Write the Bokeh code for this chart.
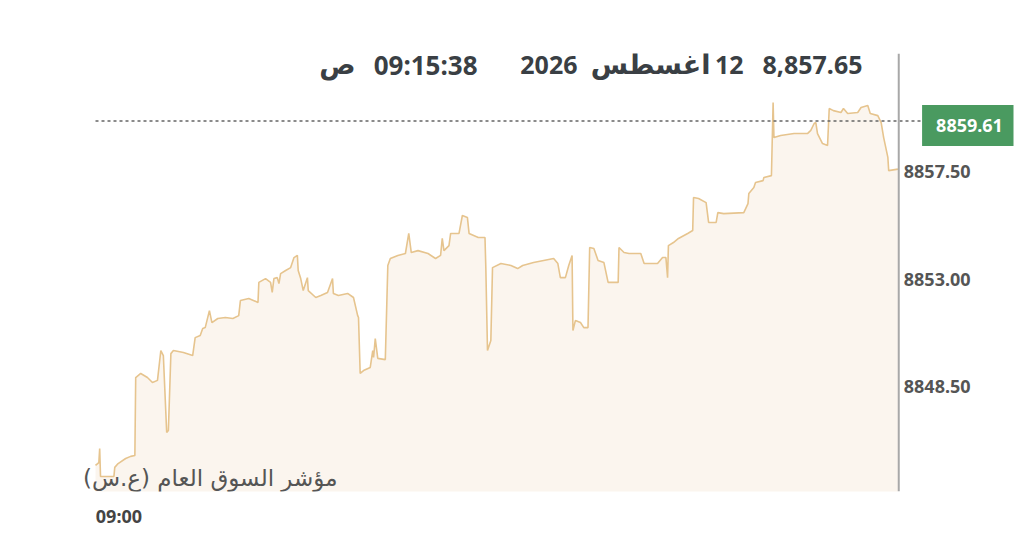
from bokeh.plotting import figure
from bokeh.models import Label, Span, FixedTicker, Range1d
from bokeh.embed import file_html
from bokeh.resources import INLINE

# seconds relative to 09:00:00
times = [-28, -24, -23, -22, -6, -5, -1, 8, 14, 19,
         20, 26, 34, 40, 46, 50, 53, 57, 59, 62,
         65, 77, 88, 91, 97, 100, 103, 108, 111, 118,
         127, 136, 143, 145, 155, 166, 167, 175, 181, 183,
         185, 189, 191, 193, 199, 205, 209, 213, 214, 217,
         220, 225, 226, 235, 241, 249, 255, 256, 262, 273,
         280, 285, 286, 288, 292, 300, 303, 304, 306, 309,
         318, 321, 324, 333, 342, 346, 349, 357, 369, 378,
         384, 386, 388, 394, 396, 406, 410, 416, 418, 429,
         437, 438, 440, 444, 446, 456, 468, 476, 482, 495,
         519, 524, 527, 533, 537, 541, 542, 545, 551, 555,
         560, 562, 567, 572, 579, 584, 596, 597, 603, 609,
         623, 627, 643, 649, 653, 655, 656, 662, 668, 679,
         685, 686, 692, 701, 704, 713, 715, 722, 746, 751,
         752, 758, 760, 769, 770, 779, 781, 782, 790, 806,
         822, 826, 830, 832, 834, 840, 846, 848, 853, 862,
         865, 870, 882, 886, 894, 897, 906, 910, 913, 918,
         919, 930]

values = [8845.20, 8845.32, 8845.91, 8844.74, 8844.74, 8845.12, 8845.28, 8845.49, 8845.58, 8845.62,
          8848.88, 8849.05, 8848.88, 8848.67, 8848.76, 8850.01, 8849.80, 8846.58, 8846.66, 8849.88,
          8850.01, 8849.93, 8849.80, 8850.55, 8850.64, 8850.93, 8850.97, 8851.68, 8851.18, 8851.35,
          8851.39, 8851.35, 8851.47, 8852.10, 8852.19, 8852.02, 8852.86, 8853.02, 8852.86, 8852.44,
          8853.02, 8853.06, 8852.81, 8853.23, 8853.36, 8853.48, 8853.90, 8853.99, 8853.36, 8853.02,
          8852.52, 8853.06, 8852.52, 8852.23, 8852.31, 8852.44, 8853.02, 8852.40, 8852.31, 8852.40,
          8852.23, 8851.47, 8851.39, 8849.05, 8849.17, 8849.30, 8850.01, 8849.72, 8850.51, 8849.68,
          8849.63, 8853.57, 8853.86, 8853.99, 8854.07, 8854.91, 8854.11, 8854.19, 8854.07, 8853.86,
          8853.99, 8854.70, 8854.19, 8854.40, 8854.91, 8854.91, 8855.66, 8855.58, 8854.91, 8854.74,
          8854.74, 8853.48, 8850.01, 8850.43, 8853.48, 8853.65, 8853.57, 8853.44, 8853.57, 8853.69,
          8853.86, 8853.65, 8853.06, 8853.06, 8853.57, 8853.99, 8850.85, 8851.27, 8851.18, 8850.97,
          8850.97, 8854.32, 8854.28, 8853.78, 8853.69, 8852.86, 8852.86, 8854.32, 8854.11, 8854.07,
          8854.07, 8853.65, 8853.65, 8853.90, 8853.90, 8853.06, 8854.40, 8854.53, 8854.70, 8854.91,
          8855.03, 8856.41, 8856.37, 8856.20, 8855.37, 8855.37, 8855.78, 8855.74, 8855.78, 8856.16,
          8856.58, 8856.83, 8857.04, 8857.12, 8857.25, 8857.33, 8860.39, 8858.92, 8859.01, 8859.09,
          8859.09, 8859.22, 8859.51, 8859.55, 8859.09, 8858.67, 8858.59, 8860.14, 8860.05, 8859.97,
          8860.14, 8859.93, 8859.97, 8860.18, 8860.26, 8859.93, 8859.84, 8859.55, 8858.92, 8858.09,
          8857.54, 8857.60]

y_ticks = [8848.5, 8853.0, 8857.5]
y_tick_labels = ["8848.50", "8853.00", "8857.50"]
x_ticks = [0]
x_tick_labels = {0: "09:00"}
axis_time = 931          # 09:15:31, end of the time axis
x_end = 1068
ref_value = 8859.61
title_value = "8,857.65"
title_date = ["12", "أغسطس", "2026"]
title_time = ["09:15:38", "ص"]
index_name = "مؤشر السوق العام (ع.س)\u200F"

FONT = "Noto Sans"
AR_FONT = "DejaVu Sans"

p = figure(frame_width=935, frame_height=438, output_backend="svg", toolbar_location=None,
           x_range=Range1d(-48.3, x_end), y_range=Range1d(8844.11, 8862.44),
           y_axis_location=None, title=None,
           min_border_left=78, min_border_right=3, min_border_top=53, min_border_bottom=39)
p.background_fill_color = "white"
p.border_fill_color = "white"
p.outline_line_color = None
p.grid.visible = False

p.varea(x=times, y1=8840.0, y2=values, fill_color="#fbf5ee")
p.line(x=times, y=values, line_color="#e6c48e", line_width=1.6)

# value axis (right edge of the time axis)
p.add_layout(Span(location=axis_time, dimension="height", line_color="#a8a8a8", line_width=2))
p.text(x=[axis_time] * len(y_ticks), y=y_ticks, text=y_tick_labels, x_offset=5,
       text_align="left", text_baseline="middle", text_font={"value": FONT},
       text_font_style="bold", text_font_size="18px", text_color="#555555")

# reference dotted line, from the first data point to the price tag
p.segment(x0=[times[0]], y0=[ref_value], x1=[x_end], y1=[ref_value],
          line_color="#666666", line_width=1.5, line_dash="3 3")

# time axis
xa = p.xaxis[0]
xa.ticker = FixedTicker(ticks=x_ticks)
xa.major_label_overrides = x_tick_labels
xa.axis_line_color = None
xa.major_tick_line_color = None
xa.minor_tick_line_color = None
xa.major_label_standoff = 6
xa.major_label_text_font = FONT
xa.major_label_text_font_style = "bold"
xa.major_label_text_font_size = "18px"
xa.major_label_text_color = "#444444"

# price tag
p.add_layout(Label(x=891, y=366, x_units="screen", y_units="screen",
                   text=f"{ref_value:.2f}", text_align="center", text_baseline="middle",
                   text_font=FONT, text_font_style="bold", text_font_size="18px",
                   text_color="white", background_fill_color="#4a9a60", padding=14))

# header
hdr = dict(x_units="screen", y_units="screen", text_align="right", text_baseline="alphabetic",
           text_font_style="bold", text_color="#3a3f44")
header = [(title_value, 784, FONT, "25px"),
          (title_date[0], 665, FONT, "25px"),
          (title_date[1], 632, AR_FONT, "27px"),
          (title_date[2], 499, FONT, "25px"),
          (title_time[0], 399, FONT, "26px"),
          (title_time[1], 277, AR_FONT, "27px")]
for txt, sx, fnt, fs in header:
    p.add_layout(Label(x=sx, y=427, text=txt, text_font=fnt, text_font_size=fs, **hdr))

# index name
p.add_layout(Label(x=259, y=14, x_units="screen", y_units="screen", text=index_name,
                   text_align="right", text_baseline="alphabetic", text_font=AR_FONT,
                   text_font_size="23px", text_color="#555555"))

open("out.html", "w").write(file_html(p, INLINE))
